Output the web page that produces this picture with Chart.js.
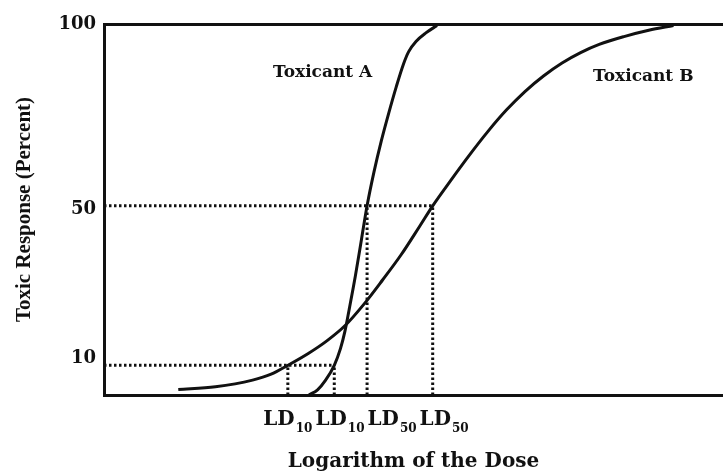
<!DOCTYPE html>
<html>
<head>
<meta charset="utf-8">
<title>Toxic response vs log dose</title>
<script src="https://cdn.jsdelivr.net/npm/chart.js@4"></script>
<style>
  html, body { margin: 0; padding: 0; background: #fff; }
  #wrap { width: 723px; height: 476px; }
</style>
</head>
<body>
<div id="wrap"><canvas id="myChart"></canvas></div>
<script>
// values; dose axis in arbitrary log units 0-100
const doseA = [33.1, 34.5, 35.8, 37.2, 38.2, 38.9, 39.6, 40.6, 41.6, 42.5, 43.6, 44.8, 46.0, 47.2, 48.4, 49.2, 50.4, 52.0, 53.8];
const respA = [0, 1.4, 4.0, 8.0, 12.5, 17, 23, 32, 42, 51, 60, 68.5, 76, 83, 89.3, 92.5, 95.3, 97.6, 99.6];

const doseB = [12, 18, 24, 27, 29.7, 33, 36, 39, 42, 45, 48, 51, 53.1, 56, 59, 62, 65, 68, 71, 74, 77, 80, 84, 88, 92];
const respB = [1.5, 2.2, 4.0, 5.6, 8.0, 11.2, 14.6, 18.8, 24.5, 31, 37.8, 45.5, 51, 57.8, 64.6, 71, 76.8, 81.8, 86, 89.5, 92.3, 94.5, 96.6, 98.3, 99.6];

const yTicks = [10, 50, 100];

// LD markers: name, subscript, dose, response level
const ldNames = ["LD", "LD", "LD", "LD"];
const ldSubs = ["10", "10", "50", "50"];
const ldDose = [29.7, 37.2, 42.5, 53.1];
const ldLevel = [8, 8, 51, 51];

const toPts = (xs, ys) => xs.map((x, i) => ({ x: x, y: ys[i] }));

const curveStyle = {
  borderColor: "#111",
  borderWidth: 3,
  pointRadius: 0,
  fill: false,
  cubicInterpolationMode: "monotone"
};
const guideStyle = {
  borderColor: "#111",
  borderWidth: 3,
  borderDash: [2.5, 2.5],
  pointRadius: 0,
  fill: false,
  tension: 0
};

// dotted guides: verticals at each LD, horizontals from the axis to the furthest LD of that level
const guides = [];
ldDose.forEach((d, i) => {
  guides.push({ label: "", data: [{ x: d, y: 0 }, { x: d, y: ldLevel[i] }], ...guideStyle });
});
[...new Set(ldLevel)].forEach(lv => {
  const far = Math.max(...ldDose.filter((d, i) => ldLevel[i] === lv));
  guides.push({ label: "", data: [{ x: 0, y: lv }, { x: far, y: lv }], ...guideStyle });
});

const serifH = "'DejaVu Serif', serif";

const labelsPlugin = {
  id: "labelsPlugin",
  afterDatasetsDraw(chart, args, opts) {
    const ctx = chart.ctx;
    const xs = chart.scales.x, ys = chart.scales.y;
    ctx.save();
    ctx.fillStyle = "#111";

    // curve names
    ctx.font = "bold 17px " + serifH;
    ctx.textAlign = "left";
    ctx.textBaseline = "middle";
    opts.names.forEach(n => {
      ctx.fillText(n.text, xs.getPixelForValue(n.x), ys.getPixelForValue(n.y));
    });

    // LD labels under the x axis, laid out left to right
    ctx.textBaseline = "alphabetic";
    const base = ys.bottom + 30;
    let prevEnd = -Infinity;
    ldDose.forEach((d, i) => {
      ctx.font = "bold 20px " + serifH;
      const w1 = ctx.measureText(ldNames[i]).width;
      ctx.font = "bold 12px " + serifH;
      const w2 = ctx.measureText(ldSubs[i]).width;
      const w = w1 + w2 + 1;
      const left = Math.max(prevEnd + 3, xs.getPixelForValue(d) - w / 2);
      ctx.font = "bold 20px " + serifH;
      ctx.fillText(ldNames[i], left, base);
      ctx.font = "bold 12px " + serifH;
      ctx.fillText(ldSubs[i], left + w1 + 1, base + 7);
      prevEnd = left + w;
    });
    ctx.restore();
  }
};

const ctx = document.getElementById("myChart");

new Chart(ctx, {
  type: "line",
  data: {
    datasets: [
      { label: "Toxicant A", data: toPts(doseA, respA), ...curveStyle },
      { label: "Toxicant B", data: toPts(doseB, respB), ...curveStyle },
      ...guides
    ]
  },
  options: {
    responsive: true,
    maintainAspectRatio: false,
    animation: false,
    layout: { padding: { top: 24, right: 0, left: 0, bottom: 0 } },
    plugins: {
      legend: { display: false },
      tooltip: { enabled: false },
      labelsPlugin: {
        names: [
          { text: "Toxicant A", x: 27.3, y: 86.8 },
          { text: "Toxicant B", x: 79, y: 85.7 }
        ]
      }
    },
    scales: {
      x: {
        type: "linear",
        min: 0,
        max: 100,
        grid: { display: false },
        border: { display: true, color: "#111", width: 3 },
        ticks: { display: false },
        title: {
          display: true,
          text: "Logarithm of the Dose",
          color: "#111",
          font: { family: serifH, size: 20, weight: "bold" },
          padding: { top: 0, bottom: 2 }
        },
        afterFit(scale) { scale.height = 81; }
      },
      y: {
        type: "linear",
        min: 0,
        max: 100,
        afterBuildTicks(scale) {
          scale.ticks = yTicks.map(v => ({ value: v }));
        },
        grid: {
          drawTicks: false,
          color: c => (c.tick && c.tick.value === 100 ? "#111" : "rgba(0,0,0,0)"),
          lineWidth: 3
        },
        border: { display: true, color: "#111", width: 3 },
        ticks: {
          color: "#111",
          padding: 8,
          font: { family: serifH, size: 18, weight: "bold" }
        },
        title: {
          display: true,
          text: "Toxic Response (Percent)",
          color: "#111",
          font: { family: "'Liberation Serif', serif", size: 21, weight: "bold" },
          padding: { top: 12, bottom: 0 }
        },
        afterFit(scale) { scale.width = 104; }
      }
    }
  },
  plugins: [labelsPlugin]
});
</script>
</body>
</html>
